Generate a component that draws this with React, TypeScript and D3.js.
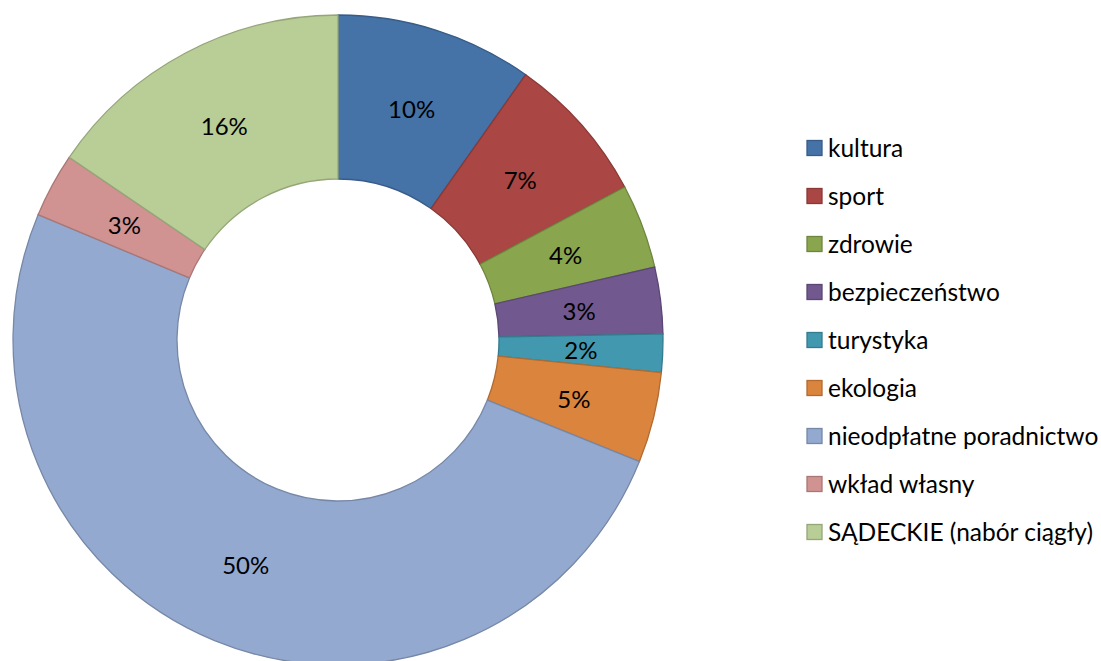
import React from "react";
import * as d3 from "d3";

const categories = [
  "kultura",
  "sport",
  "zdrowie",
  "bezpieczeństwo",
  "turystyka",
  "ekologia",
  "nieodpłatne poradnictwo",
  "wkład własny",
  "SĄDECKIE (nabór ciągły)",
];
const values = [9.8, 7.4, 4.2, 3.3, 1.9, 4.5, 50.2, 3.2, 15.5];
const labels = ["10%", "7%", "4%", "3%", "2%", "5%", "50%", "3%", "16%"];
const fills = ["#4572A7", "#AA4643", "#89A54E", "#71588F", "#4198AF", "#DB843D", "#93A9CF", "#D19392", "#B9CD96"];

const W = 1101;
const H = 661;
const cx = 338;
const cy = 340;
const outerR = 325;
const innerR = 161;
const FONT = "Lato, 'Open Sans', sans-serif";

export default function App() {
  const pie = d3.pie<number>().sort(null).value((d) => d);
  const arcs = pie(values);
  const arc = d3.arc<d3.PieArcDatum<number>>().innerRadius(innerR).outerRadius(outerR);
  const labelArc = d3
    .arc<d3.PieArcDatum<number>>()
    .innerRadius((innerR + outerR) / 2)
    .outerRadius((innerR + outerR) / 2);
  const legendY = d3.scalePoint<string>().domain(categories).range([148, 532]);

  return (
    <svg width={W} height={H} style={{ position: "absolute", left: 0, top: 0 }}>
      <rect width={W} height={H} fill="#fff" />
      <g transform={`translate(${cx},${cy})`}>
        {arcs.map((a, i) => (
          <path
            key={i}
            d={arc(a) || ""}
            fill={fills[i]}
            stroke={d3.color(fills[i])!.darker(0.6).formatHex()}
            strokeWidth={1.3}
          />
        ))}
        {arcs.map((a, i) => {
          const [x, y] = labelArc.centroid(a);
          return (
            <text
              key={i}
              x={x}
              y={y}
              textAnchor="middle"
              dominantBaseline="central"
              fontFamily={FONT}
              fontSize={24}
              fill="#000"
            >
              {labels[i]}
            </text>
          );
        })}
      </g>
      <g>
        {categories.map((c, i) => {
          const y = legendY(c)!;
          return (
            <g key={c}>
              <rect
                x={807}
                y={y - 7.5}
                width={15}
                height={15}
                fill={fills[i]}
                stroke={d3.color(fills[i])!.darker(0.6).formatHex()}
                strokeWidth={1.3}
              />
              <text
                x={828}
                y={y - 1}
                dominantBaseline="central"
                fontFamily={FONT}
                fontSize={24.5}
                fill="#000"
              >
                {c}
              </text>
            </g>
          );
        })}
      </g>
    </svg>
  );
}
